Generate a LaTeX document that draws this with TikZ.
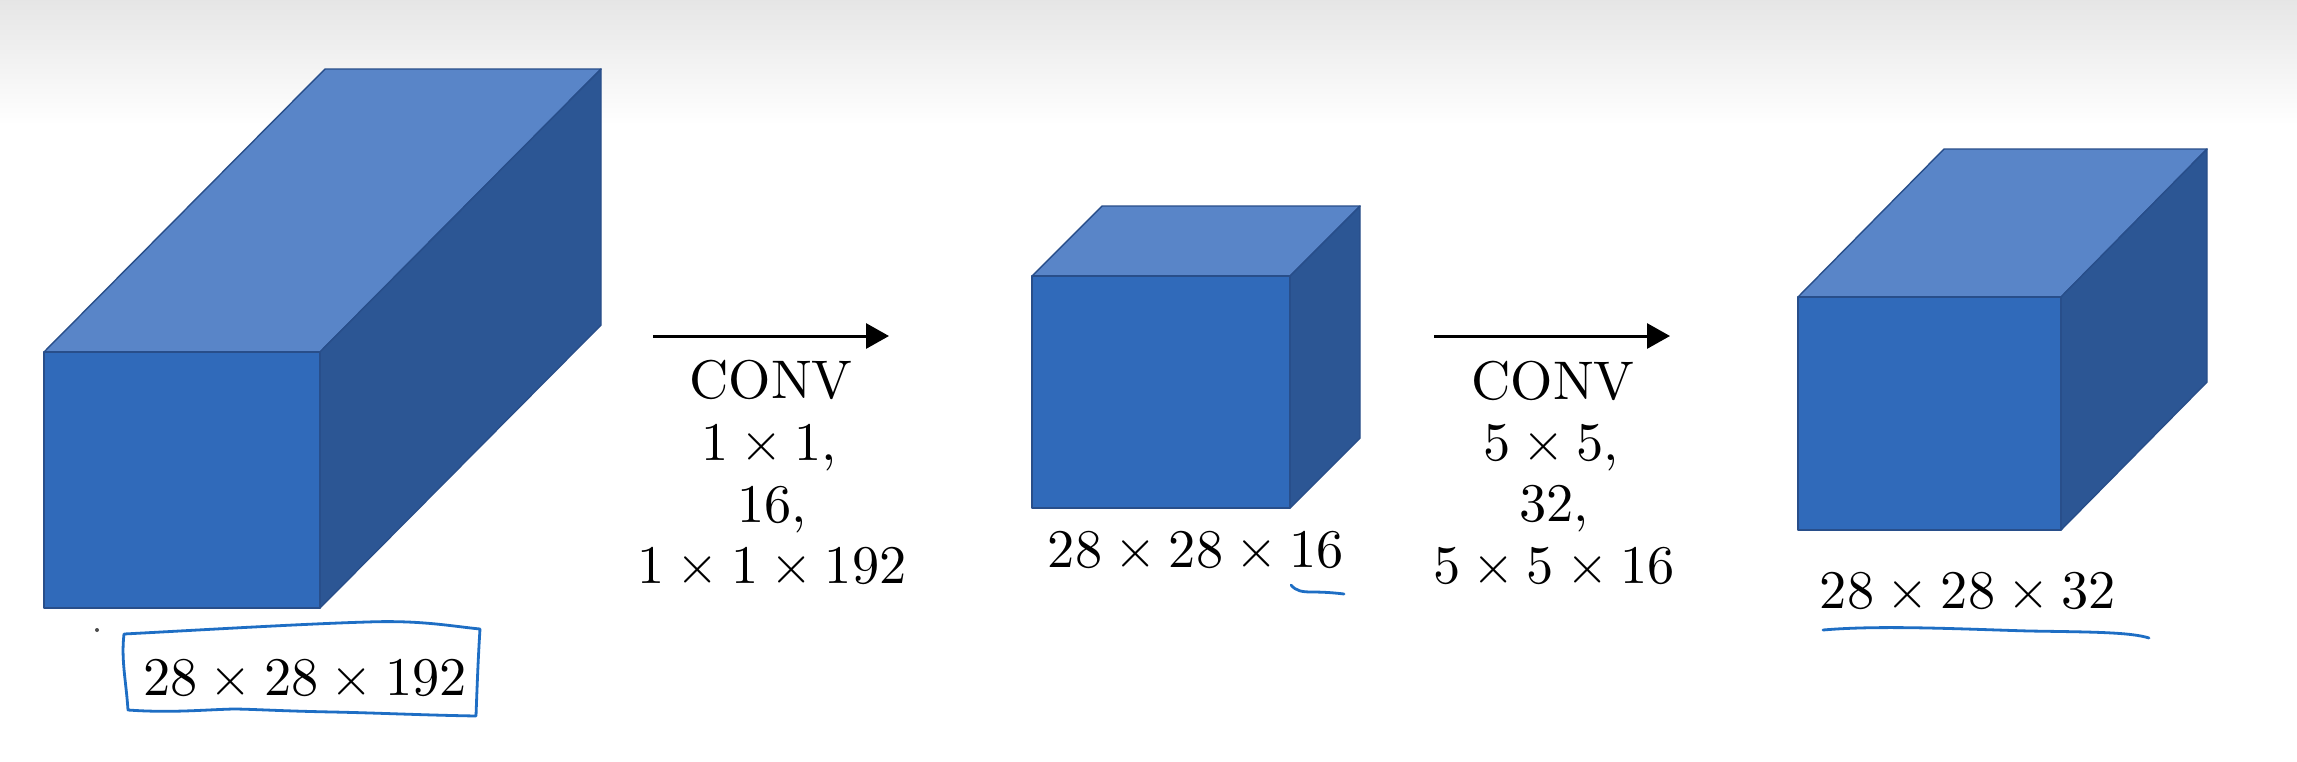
\documentclass[tikz,border=0pt]{standalone}
\usetikzlibrary{arrows.meta,calc}
\definecolor{cfront}{RGB}{48,106,186}
\definecolor{ctop}{RGB}{89,133,200}
\definecolor{cside}{RGB}{44,86,148}
\definecolor{cedge}{RGB}{40,78,138}
\definecolor{ink}{RGB}{30,110,196}
\tikzset{
  facefront/.style={fill=cfront,draw=cedge,line width=0.7pt,line join=round},
  facetop/.style={fill=ctop,draw=cedge,line width=0.7pt,line join=round},
  faceside/.style={fill=cside,draw=cedge,line width=0.7pt,line join=round},
  lbl/.style={anchor=base,inner sep=0pt,scale=2.72,font=\normalsize},
  convarrow/.style={line width=1.5pt,-{Triangle[length=11.5pt,width=12.5pt]}},
  inkline/.style={draw=ink,line width=1.4pt,line cap=round,line join=round}
}
\newcommand\mycube[6]{%
  \filldraw[facetop] (#1,#2) -- ++(#5,#6) -- ++({#3-#1},0) -- (#3,#2) -- cycle;
  \filldraw[faceside] (#3,#2) -- ++(#5,#6) -- ++(0,{#4-#2}) -- (#3,#4) -- cycle;
  \filldraw[facefront] (#1,#2) rectangle (#3,#4);
}
\begin{document}
\begin{tikzpicture}[x=0.5pt,y=-0.5pt]
\useasboundingbox (0,0) rectangle (2297,761);
\fill[white] (0,0) rectangle (2297,761);
\shade[top color=black!10,bottom color=white] (0,0) rectangle (2297,125);

% cubes
\mycube{44}{352}{320}{608}{281}{-283}
\mycube{1032}{276}{1290}{508}{70}{-70}
\mycube{1798}{297}{2061}{530}{146}{-148}

% arrows
\coordinate (a1s) at (653,336);
\coordinate (a1e) at (889,336);
\coordinate (a2s) at (1434,336);
\coordinate (a2e) at (1670,336);
\draw[convarrow] (a1s) -- (a1e);
\draw[convarrow] (a2s) -- (a2e);

% conv texts
\node[lbl] (c1a) at (771,398) {CONV};
\node[lbl] (c1b) at (769,460) {$1\times 1$,};
\node[lbl] (c1c) at (772,522) {16,};
\node[lbl] (c1d) at (772,583) {$1\times 1\times 192$};
\node[lbl] (c2a) at (1553,399) {CONV};
\node[lbl] (c2b) at (1551,460) {$5\times 5$,};
\node[lbl] (c2c) at (1554,521) {32,};
\node[lbl] (c2d) at (1554,583) {$5\times 5\times 16$};

% dimension labels
\node[lbl] (d1) at (305,695) {$28\times 28\times 192$};
\node[lbl] (d2) at (1196,567) {$28\times 28\times 16$};
\node[lbl] (d3) at (1968,608) {$28\times 28\times 32$};

% hand-drawn ink
\draw[inkline] (124,634) .. controls (200,630) and (300,624) .. (367,622)
  .. controls (420,620) and (450,626) .. (480,629)
  .. controls (478,660) and (477,690) .. (476,716)
  .. controls (420,715) and (380,713) .. (333,712)
  .. controls (280,711) and (250,709) .. (233,709)
  .. controls (200,710) and (170,713) .. (128,710)
  .. controls (126,680) and (121,660) .. (124,634) -- cycle;
\fill[black!70] (97,630) circle (2);
\draw[inkline] (1291,585) .. controls (1296,591) and (1302,592) .. (1312,592) .. controls (1325,592) and (1336,593) .. (1344,594);
\draw[inkline] (1823,630) .. controls (1880,625) and (1960,629) .. (2029,631) .. controls (2090,632) and (2130,632) .. (2149,638);
\end{tikzpicture}
\end{document}
